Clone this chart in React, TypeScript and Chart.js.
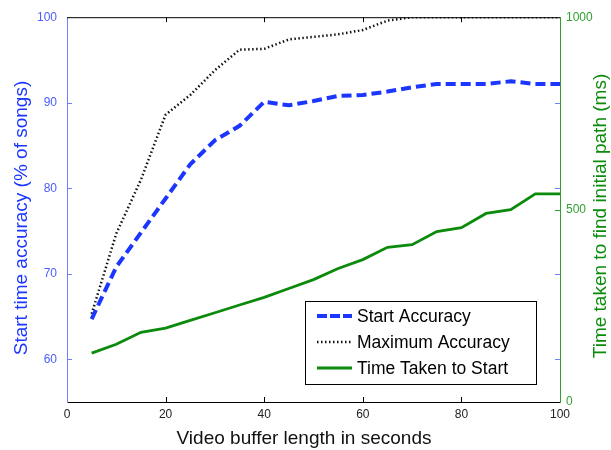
import React, { useEffect, useRef } from "react";
import { Chart, registerables } from "chart.js";

Chart.register(...registerables);

const bufferSeconds = [5, 10, 15, 20, 25, 30, 35, 40, 45, 50, 55, 60, 65, 70, 75, 80, 85, 90, 95, 100];
const startAccuracy = [64.7, 70.8, 74.8, 78.8, 82.8, 85.6, 87.3, 90.1, 89.7, 90.2, 90.8, 90.9, 91.3, 91.8, 92.2, 92.2, 92.2, 92.5, 92.2, 92.2];
const maximumAccuracy = [65.3, 74.7, 81.0, 88.6, 90.9, 93.8, 96.2, 96.3, 97.4, 97.7, 98.0, 98.5, 99.6, 100, 100, 100, 100, 100, 100, 100];
const timeTakenMs = [127, 150, 181, 192, 212, 232, 252, 272, 295, 318, 347, 370, 402, 409, 443, 453, 490, 500, 541, 541];

const xTicks = [0, 20, 40, 60, 80, 100];
const leftTicks = [60, 70, 80, 90, 100];
const rightTicks = [0, 500, 1000];

const FONT = "'Liberation Sans', Arial, sans-serif";
const BLUE = "#1a36ff";
const BLUE_TICK = "#4a5dff";
const BLUE_AXIS = "#7080ff";
const GREEN = "#0b8a0b";
const GREEN_AXIS = "#2f9f2f";

const decorPlugin = {
  id: "decor",
  afterDraw(chart: any) {
    const { ctx, chartArea } = chart;
    const { left, right, top, bottom } = chartArea;
    const xs = chart.scales.x;
    const yl = chart.scales.y;
    const yr = chart.scales.y1;
    const T = 5;
    ctx.save();
    ctx.strokeStyle = "#000";
    ctx.lineWidth = 1;
    ctx.beginPath();
    ctx.moveTo(left, top + 0.5);
    ctx.lineTo(right, top + 0.5);
    ctx.stroke();
    xTicks.slice(1, -1).forEach((v) => {
      const px = Math.round(xs.getPixelForValue(v)) + 0.5;
      ctx.beginPath();
      ctx.moveTo(px, bottom);
      ctx.lineTo(px, bottom - T);
      ctx.moveTo(px, top);
      ctx.lineTo(px, top + T);
      ctx.stroke();
    });
    ctx.strokeStyle = BLUE_AXIS;
    leftTicks.slice(0, -1).forEach((v) => {
      const py = Math.round(yl.getPixelForValue(v)) + 0.5;
      ctx.beginPath();
      ctx.moveTo(left, py);
      ctx.lineTo(left + T, py);
      ctx.moveTo(right, py);
      ctx.lineTo(right - T, py);
      ctx.stroke();
    });
    ctx.strokeStyle = GREEN_AXIS;
    rightTicks.slice(1, -1).forEach((v) => {
      const py = Math.round(yr.getPixelForValue(v)) + 0.5;
      ctx.beginPath();
      ctx.moveTo(right, py);
      ctx.lineTo(right - T, py);
      ctx.stroke();
    });

    ctx.textAlign = "center";
    ctx.textBaseline = "middle";
    ctx.font = `19px ${FONT}`;
    ctx.fillStyle = "#111";
    ctx.fillText("Video buffer length in seconds", 304, 439);

    ctx.save();
    ctx.translate(22, 218);
    ctx.rotate(-Math.PI / 2);
    ctx.fillStyle = BLUE;
    ctx.fillText("Start time accuracy (% of songs)", 0, 0);
    ctx.restore();

    ctx.save();
    ctx.translate(601, 216);
    ctx.rotate(-Math.PI / 2);
    ctx.fillStyle = GREEN;
    ctx.fillText("Time taken to find initial path (ms)", 0, 0);
    ctx.restore();

    const bx = 305, by = 301, bw = 231, bh = 83;
    ctx.fillStyle = "#fff";
    ctx.fillRect(bx, by, bw, bh);
    ctx.strokeStyle = "#000";
    ctx.lineWidth = 1;
    ctx.strokeRect(bx + 0.5, by + 0.5, bw, bh);
    const rows = [316, 342, 368];
    chart.data.datasets.forEach((ds: any, i: number) => {
      const y = rows[i];
      ctx.save();
      ctx.strokeStyle = ds.borderColor;
      ctx.lineWidth = ds.borderWidth;
      ctx.setLineDash(i === 0 ? [10, 3] : ds.borderDash || []);
      ctx.beginPath();
      ctx.moveTo(317, y);
      ctx.lineTo(352, y);
      ctx.stroke();
      ctx.restore();
      ctx.fillStyle = "#000";
      ctx.textAlign = "left";
      ctx.font = `17.5px ${FONT}`;
      ctx.fillText(ds.label, 357, y + 1);
    });
    ctx.restore();
  },
};

export default function App() {
  const ref = useRef<HTMLCanvasElement | null>(null);
  useEffect(() => {
    document.body.style.margin = "0";
    const canvas = ref.current!;
    const chart = new Chart(canvas, {
      type: "line",
      data: {
        labels: bufferSeconds,
        datasets: [
          {
            label: "Start Accuracy",
            data: bufferSeconds.map((x, i) => ({ x, y: startAccuracy[i] })),
            borderColor: BLUE,
            borderWidth: 4,
            borderDash: [10, 5],
            pointRadius: 0,
            tension: 0,
            yAxisID: "y",
          },
          {
            label: "Maximum Accuracy",
            data: bufferSeconds.map((x, i) => ({ x, y: maximumAccuracy[i] })),
            borderColor: "#111",
            borderWidth: 2.5,
            borderDash: [1.5, 2.5],
            pointRadius: 0,
            tension: 0,
            yAxisID: "y",
          },
          {
            label: "Time Taken to Start",
            data: bufferSeconds.map((x, i) => ({ x, y: timeTakenMs[i] })),
            borderColor: GREEN,
            borderWidth: 2.8,
            pointRadius: 0,
            tension: 0,
            yAxisID: "y1",
          },
        ],
      },
      options: {
        animation: false,
        responsive: false,
        layout: { padding: { top: 16, left: 0, right: 0, bottom: 0 } },
        plugins: { legend: { display: false }, tooltip: { enabled: false } },
        scales: {
          x: {
            type: "linear",
            min: 0,
            max: 100,
            afterBuildTicks: (axis: any) => {
              axis.ticks = xTicks.map((v) => ({ value: v }));
            },
            afterFit: (s: any) => {
              s.height = 48;
            },
            ticks: { color: "#222", font: { family: FONT, size: 12 }, padding: 5, maxRotation: 0, callback: (v: any) => String(v) },
            grid: { drawOnChartArea: false, drawTicks: false },
            border: { color: "#000", width: 1 },
          },
          y: {
            type: "linear",
            position: "left",
            min: 55,
            max: 100,
            afterBuildTicks: (axis: any) => {
              axis.ticks = leftTicks.map((v) => ({ value: v }));
            },
            afterFit: (s: any) => {
              s.width = 67;
            },
            ticks: { color: BLUE_TICK, font: { family: FONT, size: 12 }, padding: 10, callback: (v: any) => String(v) },
            grid: { drawOnChartArea: false, drawTicks: false },
            border: { color: BLUE_AXIS, width: 1 },
          },
          y1: {
            type: "linear",
            position: "right",
            min: 0,
            max: 1000,
            afterBuildTicks: (axis: any) => {
              axis.ticks = rightTicks.map((v) => ({ value: v }));
            },
            afterFit: (s: any) => {
              s.width = 51;
            },
            ticks: { color: GREEN_AXIS, font: { family: FONT, size: 12 }, padding: 6, callback: (v: any) => String(v) },
            grid: { drawOnChartArea: false, drawTicks: false },
            border: { color: GREEN_AXIS, width: 1 },
          },
        },
      },
      plugins: [decorPlugin],
    });
    return () => chart.destroy();
  }, []);
  return <canvas ref={ref} width={611} height={450} style={{ display: "block" }} />;
}
